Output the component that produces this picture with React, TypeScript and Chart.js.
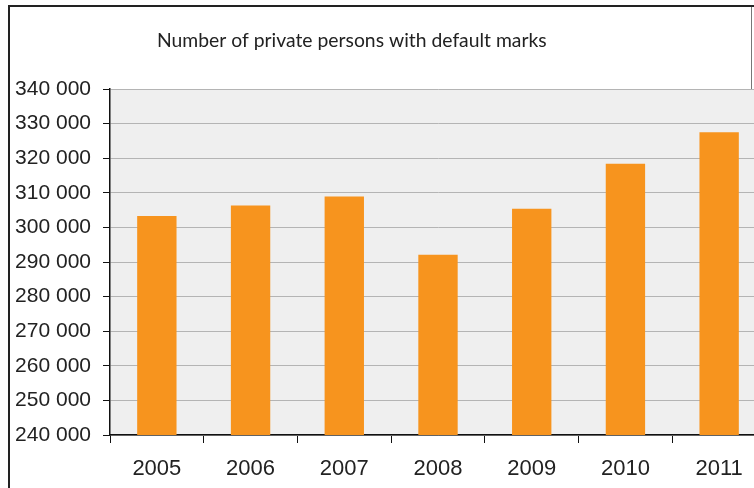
import React, { useEffect, useRef } from "react";
import { Chart, registerables } from "chart.js";

Chart.register(...registerables);

const title = "Number of private persons with default marks";
const years = ["2005", "2006", "2007", "2008", "2009", "2010", "2011"];
const defaultMarks = [303300, 306300, 308900, 292100, 305400, 318400, 327500];
const yMin = 240000;
const yMax = 340000;
const yStep = 10000;

const fmt = (v: number) => String(v).replace(/\B(?=(\d{3})+(?!\d))/g, " ");

const bgPlugin = {
  id: "plotBg",
  beforeDraw(chart: any) {
    const { ctx, chartArea } = chart;
    ctx.save();
    ctx.fillStyle = "#efefef";
    ctx.fillRect(chartArea.left, chartArea.top, chart.width - chartArea.left, chartArea.bottom - chartArea.top);
    ctx.restore();
  },
  afterDraw(chart: any) {
    const { ctx } = chart;
    ctx.save();
    let size = 18;
    ctx.font = `${size}px Lato`;
    const w = ctx.measureText(title).width;
    size = Math.max(14, Math.min(20, (size * 390) / w));
    ctx.font = `${size}px Lato`;
    ctx.fillStyle = "#222";
    ctx.textBaseline = "alphabetic";
    ctx.textAlign = "left";
    ctx.fillText(title, 157, 47);
    ctx.restore();
  },
};

export default function App() {
  const ref = useRef<HTMLCanvasElement | null>(null);
  useEffect(() => {
    if (!ref.current) return;
    const chart = new Chart(ref.current, {
      type: "bar",
      data: {
        labels: years,
        datasets: [
          {
            data: defaultMarks,
            backgroundColor: "#f7941e",
            borderWidth: 0,
            barPercentage: 0.42,
            categoryPercentage: 1,
          },
        ],
      },
      options: {
        animation: false,
        responsive: false,
        devicePixelRatio: 1,
        layout: { padding: { top: 89, left: 0, right: 0, bottom: 0 } },
        plugins: { legend: { display: false }, tooltip: { enabled: false }, title: { display: false } },
        scales: {
          x: {
            grid: {
              display: true,
              drawOnChartArea: false,
              drawTicks: true,
              tickLength: 8,
              tickColor: "#111",
              offset: true,
            },
            border: { display: true, color: "#111", width: 1.5 },
            ticks: {
              color: "#222",
              font: { family: "'Liberation Sans', Arial", size: 22 },
              padding: 13,
              maxRotation: 0,
            },
            afterFit(scale: any) {
              scale.height = 53;
            },
          },
          y: {
            min: yMin,
            max: yMax,
            grid: {
              color: "#b4b4b4",
              tickColor: "#111",
              tickLength: 7,
              lineWidth: 1,
            },
            border: { display: true, color: "#111", width: 1.5 },
            ticks: {
              stepSize: yStep,
              color: "#222",
              font: { family: "'Liberation Sans', Arial", size: 21 },
              padding: 12,
              callback: (v: any) => fmt(Number(v)),
            },
            afterFit(scale: any) {
              scale.width = 110;
            },
          },
        },
      },
      plugins: [bgPlugin],
    });
    return () => chart.destroy();
  }, []);

  return (
    <div
      style={{
        position: "fixed",
        left: 0,
        top: 0,
        width: 754,
        height: 488,
        overflow: "hidden",
        background: "#fff",
      }}
    >
      <div
        style={{
          position: "absolute",
          left: 8,
          top: 5,
          width: 760,
          height: 500,
          borderTop: "2px solid #222",
          borderLeft: "2px solid #222",
          boxSizing: "border-box",
        }}
      />
      <div
        style={{
          position: "absolute",
          left: 751,
          top: 7,
          width: 1,
          height: 82,
          background: "#777",
        }}
      />
      <canvas ref={ref} width={766} height={488} style={{ position: "absolute", left: 0, top: 0 }} />
    </div>
  );
}
